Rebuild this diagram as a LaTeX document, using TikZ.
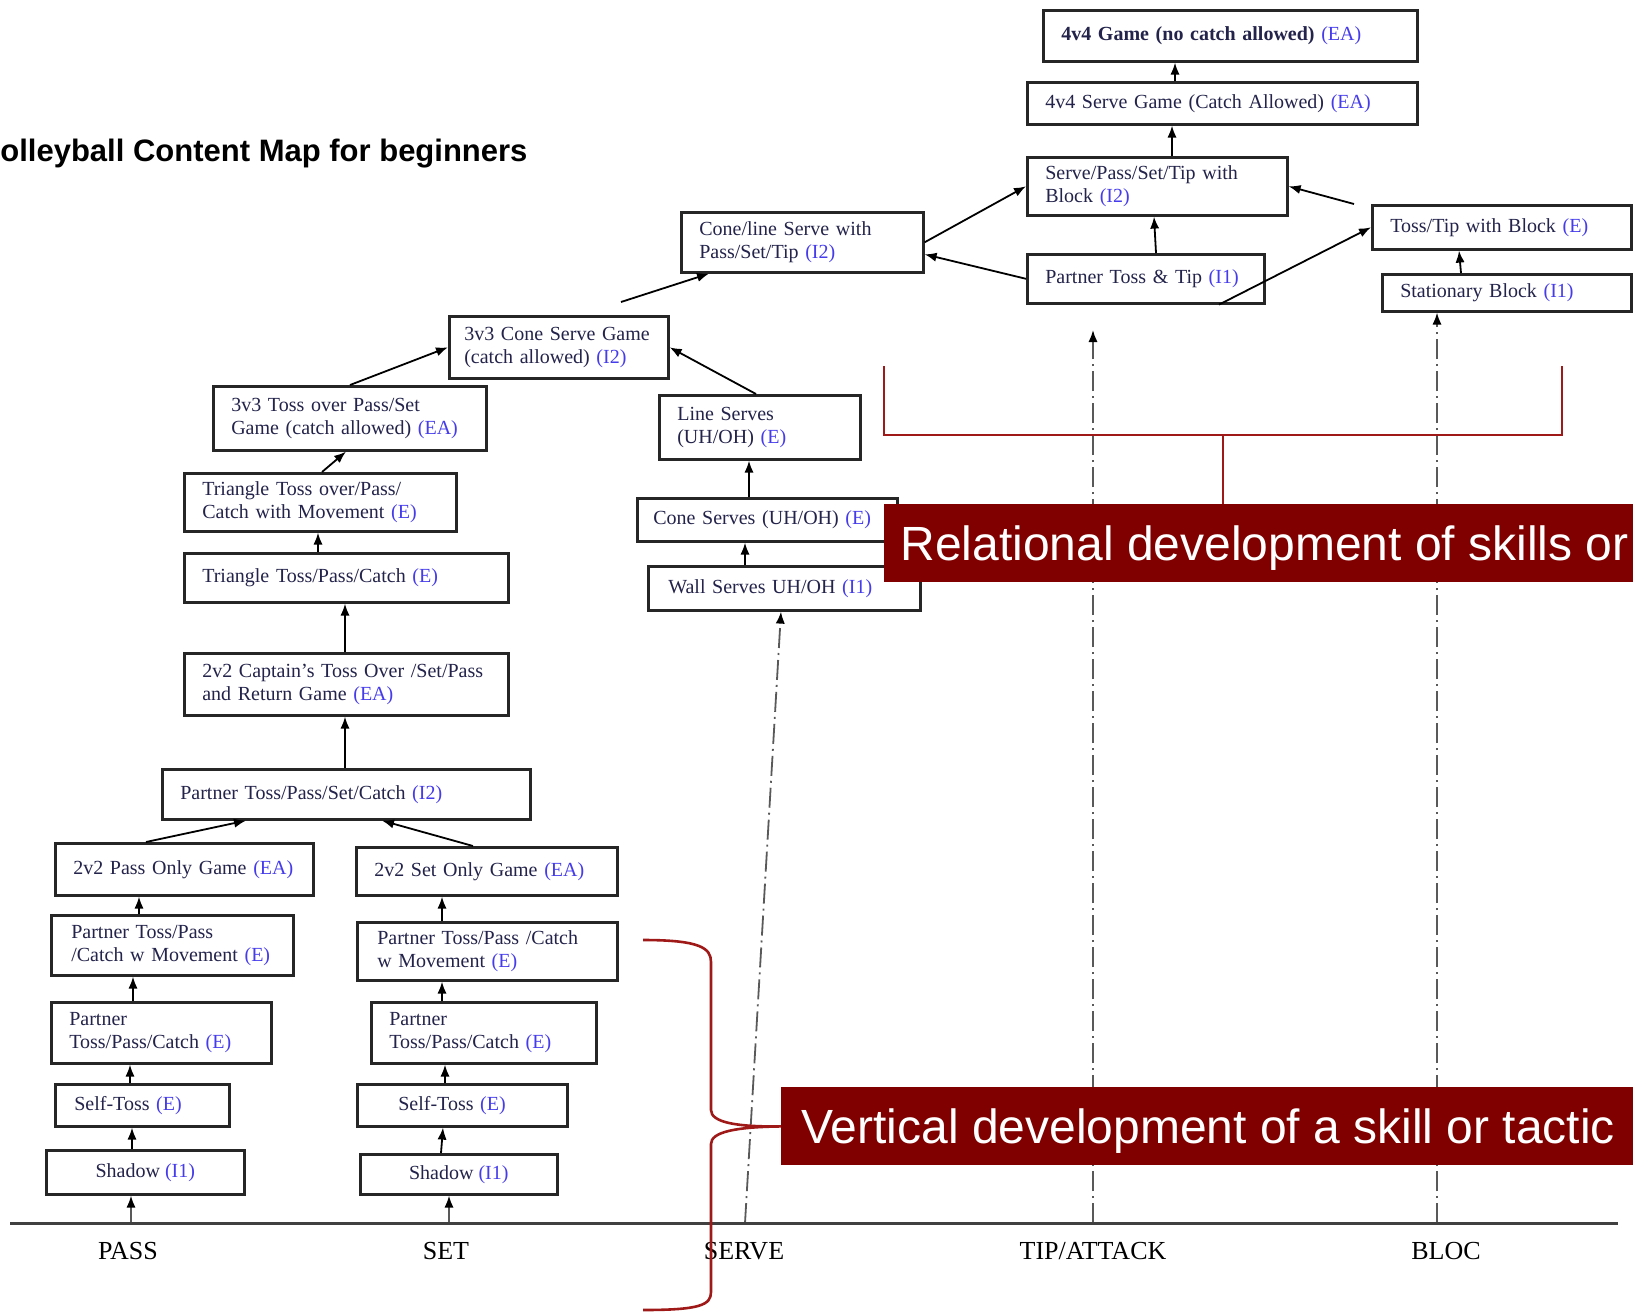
\documentclass[tikz,border=0pt]{standalone}
\usepackage{fontspec}
\setmainfont{Liberation Serif}
\newfontfamily\sansbanner{Liberation Sans}
\usepackage{xcolor}
\usepackage{tikz}
\usetikzlibrary{calc, arrows.meta}

\definecolor{boxink}{RGB}{35,35,75}
\definecolor{tagblue}{RGB}{70,60,235}
\definecolor{bannerred}{RGB}{128,0,0}
\definecolor{bracered}{RGB}{160,25,25}
\newcommand{\lvl}[1]{\textcolor{tagblue}{(#1)}}

\tikzset{
	skill/.style={draw=black!85, line width=1.3pt, fill=white, text=boxink, font=\fontsize{10}{11.5}\selectfont, align=left, inner xsep=9pt, inner ysep=2pt, anchor=north west},
	arr/.style={draw, -{Latex[length=6pt, width=4.6pt]}, line width=0.9pt},
	axisarr/.style={draw=black!65, line width=0.9pt, dash pattern=on 10pt off 2.5pt on 1pt off 2.5pt, -{Latex[length=6pt, width=4.6pt, color=black]}},
	redline/.style={draw=bracered, line width=1.3pt},
	banner/.style={fill=bannerred, text=white, font=\sansbanner\fontsize{24}{28}\selectfont, anchor=north west, inner xsep=10pt, inner ysep=0pt, text depth=0pt},
	axislabel/.style={font=\fontsize{13}{15}\selectfont, anchor=base, inner sep=0pt}
}

\begin{document}
\begin{tikzpicture}[x=0.5pt, y=-0.5pt]
		\useasboundingbox (0,0) rectangle (1633,1312);
		\node[anchor=base west, inner sep=0pt, font=\sansbanner\bfseries\fontsize{15.5}{18}\selectfont] (mapTitle) at (0,161) {olleyball Content Map for beginners};

		\node[skill, minimum width=187pt, minimum height=25.5pt, text width=169pt] (game4) at (1042,9) {\textbf{4v4 Game (no catch allowed)} \lvl{EA}};
		\node[skill, minimum width=195pt, minimum height=21pt, text width=177pt] (serve4) at (1026,81) {4v4 Serve Game (Catch Allowed) \lvl{EA}};
		\node[skill, minimum width=130pt, minimum height=29pt, text width=112pt] (servePass) at (1026,156) {Serve/Pass/Set/Tip with\\Block \lvl{I2}};
		\node[skill, minimum width=118.5pt, minimum height=24.5pt, text width=100.5pt] (tossTip) at (1026,253) {Partner Toss \& Tip \lvl{I1}};
		\node[skill, minimum width=129.5pt, minimum height=22pt, text width=111.5pt] (tossBlock) at (1371,204) {Toss/Tip with Block \lvl{E}};
		\node[skill, minimum width=124.5pt, minimum height=18.5pt, text width=106.5pt] (blockStat) at (1381,273) {Stationary Block \lvl{I1}};
		\node[skill, minimum width=121pt, minimum height=30pt, text width=103pt] (coneLine) at (680,211) {Cone/line Serve with\\Pass/Set/Tip \lvl{I2}};
		\node[skill, inner xsep=7.5pt, minimum width=109.5pt, minimum height=31pt, text width=94.5pt] (cone3) at (448,315) {3v3 Cone Serve Game\\(catch allowed) \lvl{I2}};
		\node[skill, minimum width=136.5pt, minimum height=32pt, text width=118.5pt] (toss3) at (212,385) {3v3 Toss over Pass/Set\\Game (catch allowed) \lvl{EA}};
		\node[skill, minimum width=100.5pt, minimum height=32pt, text width=82.5pt] (lineServe) at (658,394) {Line Serves\\(UH/OH) \lvl{E}};
		\node[skill, minimum width=136pt, minimum height=29pt, text width=118pt] (triOver) at (183,472) {Triangle Toss over/Pass/\\Catch with Movement \lvl{E}};
		\node[skill, inner xsep=8pt, minimum width=130pt, minimum height=21.5pt, text width=114pt] (coneServe) at (636,497) {Cone Serves (UH/OH) \lvl{E}};
		\node[skill, inner xsep=10pt, minimum width=136pt, minimum height=22pt, text width=116pt] (wallServe) at (647,565) {Wall Serves UH/OH \lvl{I1}};
		\node[skill, minimum width=162pt, minimum height=24.5pt, text width=144pt] (triToss) at (183,552) {Triangle Toss/Pass/Catch \lvl{E}};
		\node[skill, minimum width=162pt, minimum height=31pt, text width=144pt] (captain) at (183,652) {2v2 Captain's Toss Over /Set/Pass\\and Return Game \lvl{EA}};
		\node[skill, minimum width=184pt, minimum height=25pt, text width=166pt] (partnerAll) at (161,768) {Partner Toss/Pass/Set/Catch \lvl{I2}};
		\node[skill, minimum width=129pt, minimum height=26pt, text width=111pt] (passGame) at (54,842) {2v2 Pass Only Game \lvl{EA}};
		\node[skill, minimum width=130.5pt, minimum height=24pt, text width=112.5pt] (setGame) at (355,846) {2v2 Set Only Game \lvl{EA}};
		\node[skill, inner xsep=10pt, minimum width=121pt, minimum height=30pt, text width=101pt] (passMove) at (50,914) {Partner Toss/Pass\\/Catch w Movement \lvl{E}};
		\node[skill, inner xsep=10pt, minimum width=130pt, minimum height=29pt, text width=110pt] (setMove) at (356,921) {Partner Toss/Pass /Catch\\w Movement \lvl{E}};
		\node[skill, minimum width=110pt, minimum height=30.5pt, text width=92pt] (passPartner) at (50,1001) {Partner\\Toss/Pass/Catch \lvl{E}};
		\node[skill, minimum width=112.5pt, minimum height=30.5pt, text width=94.5pt] (setPartner) at (370,1001) {Partner\\Toss/Pass/Catch \lvl{E}};
		\node[skill, inner xsep=9.5pt, minimum width=87pt, minimum height=21pt, text width=68pt] (passSelf) at (54,1083) {Self-Toss \lvl{E}};
		\node[skill, inner xsep=20.5pt, minimum width=105pt, minimum height=21pt, text width=64pt] (setSelf) at (356,1083) {Self-Toss \lvl{E}};
		\node[skill, align=center, minimum width=99pt, minimum height=22pt] (passShadow) at (45,1149) {Shadow \lvl{I1}};
		\node[skill, align=center, minimum width=98.5pt, minimum height=20pt] (setShadow) at (359,1153) {Shadow \lvl{I1}};

		\draw[arr] (serve4.north -| 1175,0) -- (game4.south -| 1175,0);
		\draw[arr] (servePass.north -| 1172,0) -- (serve4.south -| 1172,0);
		\draw[arr] (tossTip.north -| 1156,0) -- (servePass.south -| 1154,0);
		\draw[arr] (tossTip.west) -- ([yshift=-6pt]coneLine.east);
		\draw[arr] (coneLine.east) -- (servePass.west);
		\draw[arr] (tossTip.south -| 1219,0) -- (tossBlock.west);
		\draw[arr] ([xshift=-8.5pt]tossBlock.north west) -- (servePass.east);
		\draw[arr] (blockStat.north -| 1461,0) -- (tossBlock.south -| 1459,0);
		\draw[arr] ($(cone3.north -| 621,0)+(0,-13)$) -- (coneLine.south -| 709,0);
		\draw[arr] (toss3.north -| 350,0) -- (cone3.west);
		\draw[arr] (lineServe.north -| 756,0) -- (cone3.east);
		\draw[arr] (coneServe.north -| 749,0) -- (lineServe.south -| 749,0);
		\draw[arr] (wallServe.north -| 745,0) -- (coneServe.south -| 745,0);
		\draw[arr] (triOver.north -| 322,0) -- (toss3.south -| 346,0);
		\draw[arr] (triToss.north -| 318,0) -- (triOver.south -| 318,0);
		\draw[arr] (captain.north -| 345,0) -- (triToss.south -| 345,0);
		\draw[arr] (partnerAll.north -| 345,0) -- (captain.south -| 345,0);
		\draw[arr] (passGame.north -| 146,0) -- (partnerAll.south -| 246,0);
		\draw[arr] (setGame.north -| 473,0) -- (partnerAll.south -| 382,0);
		\draw[arr] (passMove.north -| 139,0) -- (passGame.south -| 139,0);
		\draw[arr] (passPartner.north -| 133,0) -- (passMove.south -| 133,0);
		\draw[arr] (passSelf.north -| 130,0) -- (passPartner.south -| 130,0);
		\draw[arr] (passShadow.north -| 132,0) -- (passSelf.south -| 132,0);
		\draw[arr] (setMove.north -| 442,0) -- (setGame.south -| 442,0);
		\draw[arr] (setPartner.north -| 442,0) -- (setMove.south -| 442,0);
		\draw[arr] (setSelf.north -| 445,0) -- (setPartner.south -| 445,0);
		\draw[arr] (setShadow.north -| 441,0) -- (setSelf.south -| 443,0);

		\coordinate (axisL) at (10,1223);
		\coordinate (axisR) at (1618,1223);
		\coordinate (tipEnd) at (1093,330);
		\draw[axisarr] (axisL -| 131,0) -- (passShadow.south -| 131,0);
		\draw[axisarr] (axisL -| 449,0) -- (setShadow.south -| 449,0);
		\draw[axisarr] (axisL -| 745,0) -- (wallServe.south -| 781,0);
		\draw[axisarr] (axisL -| 1093,0) -- (tipEnd);
		\draw[axisarr] (axisL -| 1437,0) -- (blockStat.south -| 1437,0);
		\draw[line width=1.5pt, black!75] (axisL) -- (axisR);

		\node[axislabel] (lblPass) at (128,1259) {PASS};
		\node[axislabel] (lblSet) at (446,1259) {SET};
		\node[axislabel] (lblServe) at (744,1259) {SERVE};
		\node[axislabel] (lblTip) at (1093,1259) {TIP/ATTACK};
		\node[axislabel] (lblBloc) at (1446,1259) {BLOC};

		\node[banner, inner xsep=8pt, minimum width=374.5pt, minimum height=39pt] (relBanner) at (884,504) {\makebox[358.5pt][l]{Relational development of skills or}};
		\node[banner, minimum width=426pt, minimum height=39pt] (vertBanner) at (781,1087) {\makebox[406pt][l]{Vertical development of a skill or tactic}};

		\coordinate (relL) at (884,366);
		\coordinate (relR) at (1562,366);
		\coordinate (relMid) at (1223,435);
		\draw[redline] (relL) -- ++(0,69) -| (relR);
		\draw[redline] (relMid) -- (relBanner.north -| relMid);

		\coordinate (braceTop) at (643,940);
		\coordinate (braceBot) at (643,1310);
		\draw[redline] (braceTop) .. controls (700,940) and (711,948) .. (711,962) -- (711,1110) .. controls (711,1122) and (735,1127) .. (vertBanner.west) .. controls (735,1127) and (711,1132) .. (711,1144) -- (711,1292) .. controls (711,1305) and (700,1310) .. (braceBot);
	\end{tikzpicture}
\end{document}
